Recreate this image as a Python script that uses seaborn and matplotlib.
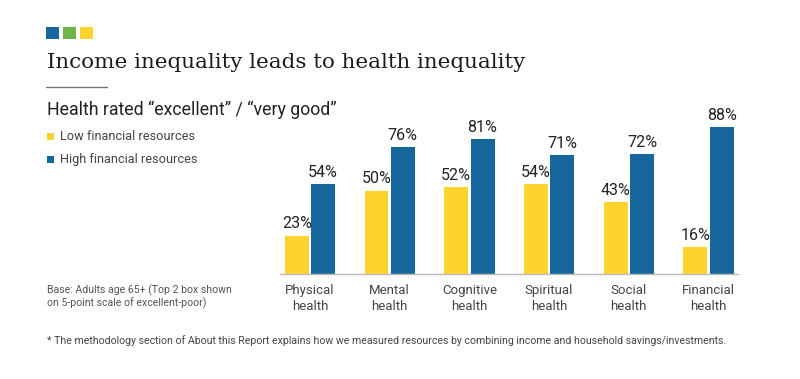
import numpy as np
import pandas as pd
import matplotlib
matplotlib.use("Agg")
import matplotlib.pyplot as plt
import seaborn as sns
from matplotlib.patches import Rectangle
from matplotlib.lines import Line2D

# datos
categorias = ["Physical\nhealth", "Mental\nhealth", "Cognitive\nhealth",
              "Spiritual\nhealth", "Social\nhealth", "Financial\nhealth"]
grupos = ["Low financial resources", "High financial resources"]
bajo = [23, 50, 52, 54, 43, 16]
alto = [54, 76, 81, 71, 72, 88]

amarillo = "#FDD42F"
azul = "#17679C"
verde = "#6DB54A"

df = pd.DataFrame({
    "categoria": categorias * 2,
    "grupo": [grupos[0]] * len(categorias) + [grupos[1]] * len(categorias),
    "valor": bajo + alto,
})

sns.set_style("white")
plt.rcParams["font.family"] = ["Roboto", "DejaVu Sans"]

W, H = 800, 379
fig = plt.figure(figsize=(8, 3.79), dpi=100)
ax = fig.add_axes([280 / W, 1 - 274 / H, 458 / W, 167 / H])

sns.barplot(data=df, x="categoria", y="valor", hue="grupo", order=categorias,
            hue_order=grupos, palette=[amarillo, azul], saturation=1,
            width=0.66, gap=0.09, legend=False, ax=ax,
            edgecolor="none", linewidth=0)

for cont in ax.containers:
    ax.bar_label(cont, labels=[f"{v:.0f}%" for v in cont.datavalues],
                 padding=3, fontsize=11.5, color="#222222")

ax.set_xlim(-0.376, 5.37)
ax.set_ylim(0, 100)
ax.set_xlabel("")
ax.set_ylabel("")
ax.set_yticks([])
ax.tick_params(axis="x", length=0, pad=7, labelsize=9.5, labelcolor="#444444")
for s in ["left", "right", "top"]:
    ax.spines[s].set_visible(False)
ax.spines["bottom"].set_color("#bbbbbb")
ax.spines["bottom"].set_linewidth(1)
for lbl in ax.get_xticklabels():
    lbl.set_linespacing(1.3)

# cuadrados de colores arriba
for i, c in enumerate([azul, verde, amarillo]):
    fig.add_artist(Rectangle(((46 + i * 17) / W, 1 - 39 / H), 13 / W, 12 / H,
                             transform=fig.transFigure, color=c, lw=0))

fig.text(47 / W, 1 - 62 / H, "Income inequality leads to health inequality",
         family=["DejaVu Serif"], fontsize=15.4, color="#1a1a1a", va="center")
fig.add_artist(Line2D([46 / W, 107 / W], [1 - 87 / H, 1 - 87 / H],
                      transform=fig.transFigure, color="#777777", lw=1))
fig.text(47 / W, 1 - 110 / H, "Health rated “excellent” / “very good”",
         fontsize=12.8, color="#222222", va="center")

# leyenda
for i, (g, c) in enumerate(zip(grupos, [amarillo, azul])):
    y = 1 - (137 + i * 22) / H
    fig.add_artist(Rectangle((47 / W, y - 3.5 / H), 7 / W, 7 / H,
                             transform=fig.transFigure, color=c, lw=0))
    fig.text(60 / W, y, g, fontsize=9.2, color="#444444", va="center")

fig.text(47 / W, 1 - 297 / H,
         "Base: Adults age 65+ (Top 2 box shown\non 5-point scale of excellent-poor)",
         fontsize=7.6, color="#555555", va="center", linespacing=1.2)
fig.text(47 / W, 1 - 341 / H,
         "* The methodology section of About this Report explains how we measured "
         "resources by combining income and household savings/investments.",
         fontsize=7.6, color="#444444", va="center")

fig.savefig("out.png", dpi=100, facecolor="white")
